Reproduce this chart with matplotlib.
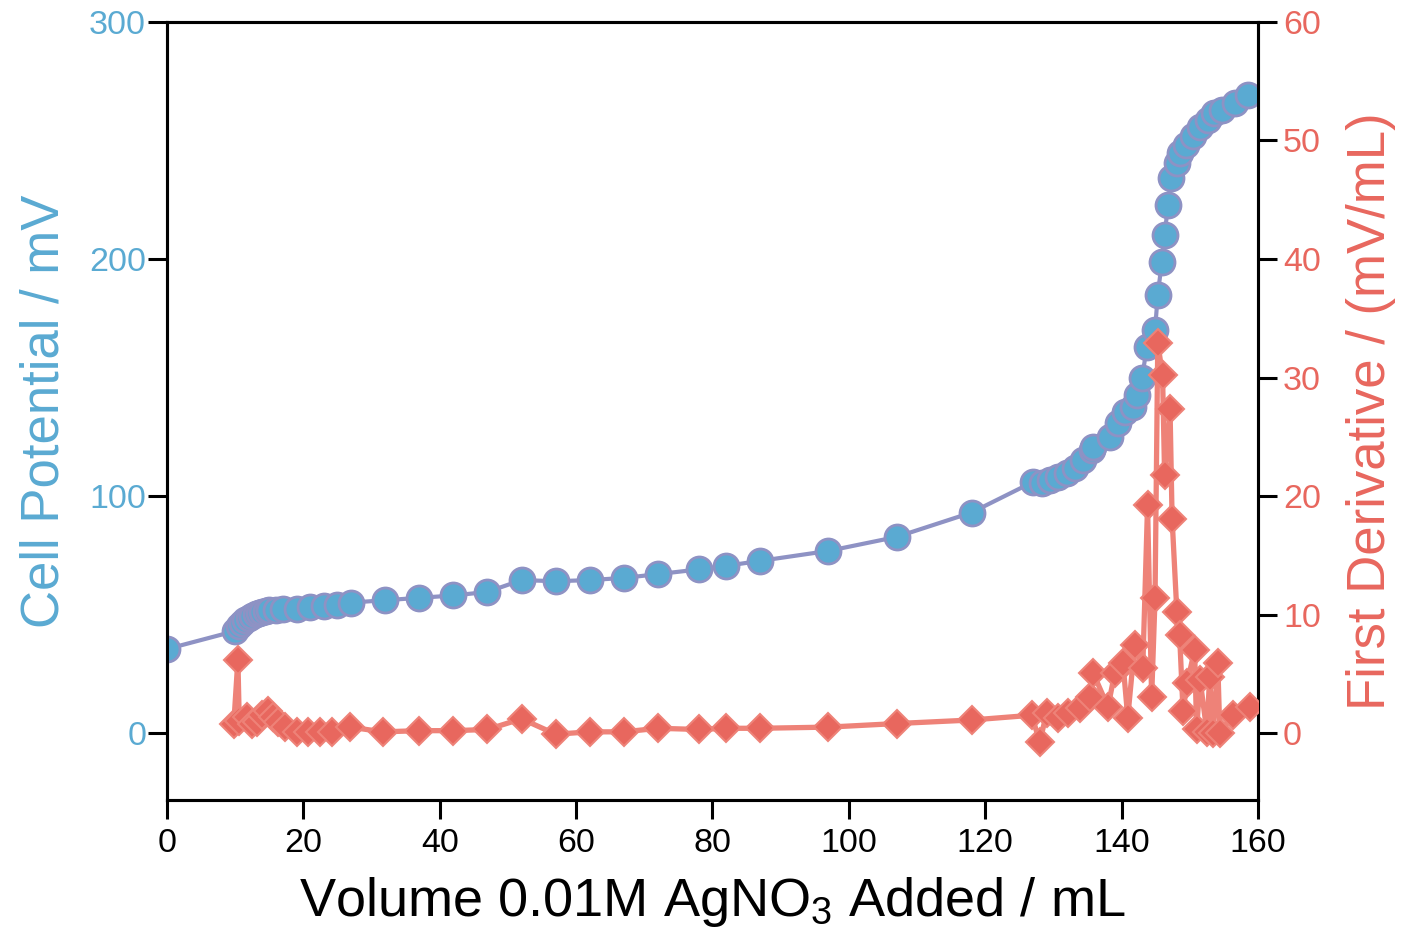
import matplotlib
matplotlib.use('Agg')
import matplotlib.pyplot as plt

plt.rcParams['font.family'] = ['Liberation Sans', 'DejaVu Sans']
plt.rcParams['mathtext.default'] = 'regular'

# cell potential (mV) vs volume of titrant (mL)
volume = [0, 10, 10.5, 11, 11.5, 12, 12.5, 13, 13.5, 14, 14.5, 15, 16, 17, 19, 21, 23, 25, 27,
          32, 37, 42, 47, 52, 57, 62, 67, 72, 78, 82, 87, 97, 107, 118, 127, 128.3, 129.5,
          130.6, 132, 133.1, 134.3, 135.6, 135.8, 138.3, 139.4, 140.5, 141.6, 142.2, 143,
          143.7, 144.9, 145.3, 145.9, 146.3, 146.8, 147.3, 148.1, 148.5, 149.5, 150.4, 151.5,
          152.6, 153.6, 154.7, 156.6, 158.5]
potential = [35.4, 43, 45, 46.5, 47.5, 48.5, 49.3, 50, 50.7, 51, 51.5, 52, 52, 52.5, 52.5, 53,
             53.5, 54, 55, 56, 57, 58, 59.5, 64.5, 64, 64.5, 65.4, 67, 69, 70.5, 72.6, 76.8,
             82.7, 93, 105.9, 105.5, 106.8, 108, 109.7, 111.8, 115, 119.4, 120.7, 124.9, 130.8,
             135.4, 137.6, 142.6, 149.8, 163, 170, 185, 198.7, 210, 222.8, 234, 240.5, 244.7,
             248, 252, 255.7, 258.6, 261.6, 263, 265.8, 269]

# first derivative (mV/mL)
deriv_volume = [9.8, 10.4, 10.6, 11.7, 12.5, 13.2, 13.9, 14.8, 15.5, 16.3, 17.3, 19.1, 20.7,
                22.4, 24.2, 26.8, 31.7, 37, 42, 47, 52, 57, 62, 67, 72, 78, 82, 87, 97, 107,
                118, 126.8, 128, 129, 130.6, 132.1, 133.9, 135.3, 135.8, 138, 139, 140.2, 140.9,
                141.9, 143.1, 143.8, 144.4, 144.9, 145.3, 146.0, 146.3, 147.1, 147.4, 148.1,
                148.5, 149, 149.6, 150.7, 151, 151.5, 152.5, 152.9, 153.4, 154.1, 154.4, 156.3,
                158.8]
deriv = [0.8, 6.2, 1.0, 1.35, 0.8, 0.9, 1.5, 1.9, 1.35, 0.9, 0.5, 0.1, 0.1, 0.1, 0.1, 0.5, 0.1,
         0.2, 0.2, 0.3, 1.2, -0.1, 0.1, 0.1, 0.4, 0.3, 0.4, 0.4, 0.5, 0.8, 1.1, 1.5, -0.75, 1.7,
         1.3, 1.7, 2.1, 3.0, 5.1, 2.2, 5.1, 5.9, 1.3, 7.4, 5.5, 19.2, 3.0, 11.4, 32.9, 30.2,
         21.8, 27.3, 18.1, 10.2, 8.3, 1.9, 4.2, 7.0, 0.3, 4.5, 0.1, 4.7, 0, 5.9, 0, 1.5, 2.2]

blue = '#5aaad2'
blue_line = '#8e92c4'
red = '#e8675e'
red_line = '#ee8278'

fig = plt.figure(figsize=(14.02, 9.35), dpi=100)
ax = fig.add_axes([0.1191, 0.1444, 0.7782, 0.8321])
ax2 = ax.twinx()

ax.plot(volume, potential, color=blue_line, lw=3, marker='o', ms=18,
        mfc=blue, mec=blue_line, mew=2, zorder=3)
ax2.plot(deriv_volume, deriv, color=red_line, lw=3.8, marker='D', ms=14.5,
         mfc=red, mec=red_line, mew=1.5, zorder=3)

ax.set_xlim(0, 160)
ax.set_ylim(-28.3, 300)
ax2.set_ylim(-5.65, 60)
ax.set_xticks(range(0, 161, 20))
ax.set_yticks([0, 100, 200, 300])
ax2.set_yticks([0, 10, 20, 30, 40, 50, 60])

for a in (ax, ax2):
    for s in a.spines.values():
        s.set_linewidth(2.2)
ax.tick_params(axis='x', direction='out', length=14, width=2.2, labelsize=24.5, pad=6)
ax.tick_params(axis='y', direction='out', length=14, width=2.2, labelsize=24.5, pad=1,
               labelcolor=blue)
ax2.tick_params(axis='y', direction='out', length=14, width=2.2, labelsize=24.5, pad=4,
                labelcolor=red)

ax.set_xlabel('Volume 0.01M AgNO$_3$ Added / mL', fontsize=39, labelpad=12)
ax.set_ylabel('Cell Potential / mV', fontsize=38, color=blue, labelpad=14)
ax2.set_ylabel('First Derivative / (mV/mL)', fontsize=38, color=red, labelpad=18)

fig.savefig('out.png', dpi=100)
